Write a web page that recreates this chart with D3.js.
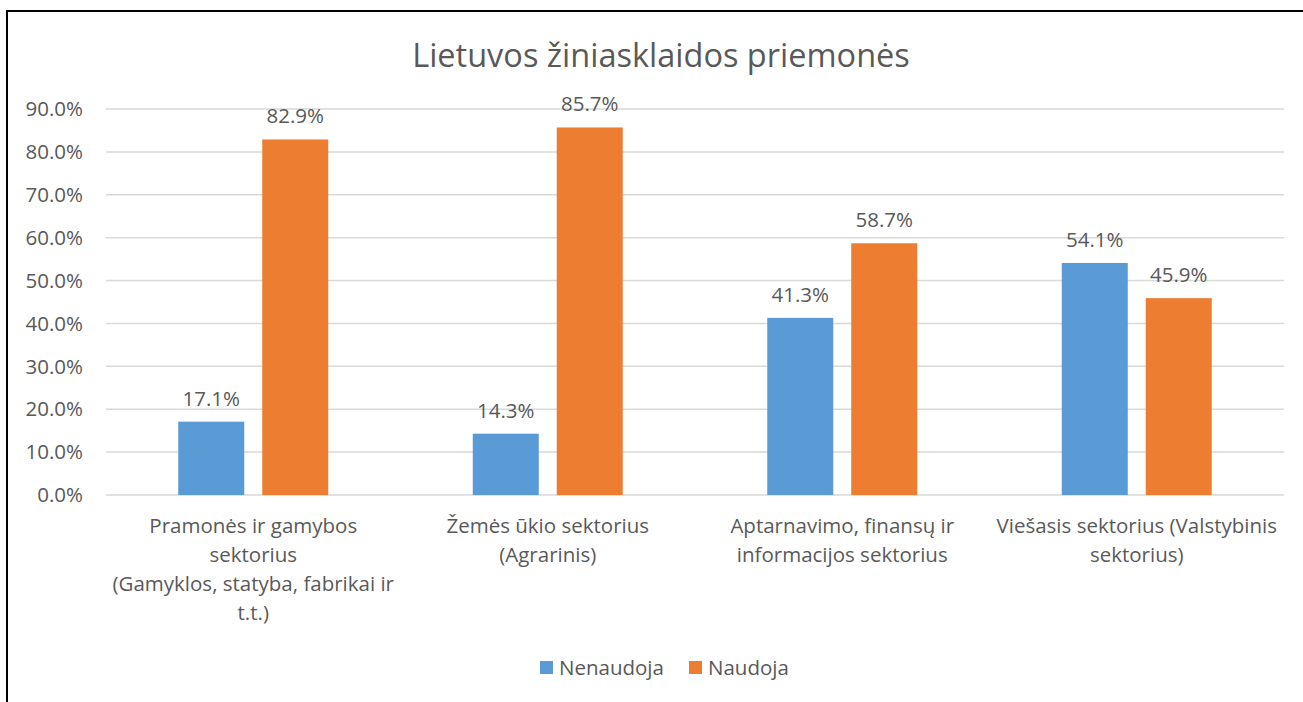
<!DOCTYPE html>
<html>
<head>
<meta charset="utf-8">
<script src="https://cdn.jsdelivr.net/npm/d3@7"></script>
<style>
    body { margin: 0; background: #fff; }
    text { font-family: "Open Sans", sans-serif; fill: #595959; }
</style>
</head>
<body>
<script>
var categories = ['Pramonės', 'Žemės ūkio', 'Aptarnavimo', 'Viešasis'];
var categoryLines = [
    ['Pramonės ir gamybos', 'sektorius', '(Gamyklos, statyba, fabrikai ir', 't.t.)'],
    ['Žemės ūkio sektorius', '(Agrarinis)'],
    ['Aptarnavimo, finansų ir', 'informacijos sektorius'],
    ['Viešasis sektorius (Valstybinis', 'sektorius)']
];
var seriesNames = ['Nenaudoja', 'Naudoja'];
var nenaudoja = [17.1, 14.3, 41.3, 54.1];
var naudoja = [82.9, 85.7, 58.7, 45.9];
var yTicks = [0, 10, 20, 30, 40, 50, 60, 70, 80, 90];

(function () {
    var width = 1303,
        height = 702,
        left = 106,
        right = 1284,
        top = 109,
        bottom = 495,
        fs = '20.5px',
        colors = ['#5b9bd5', '#ed7d31'],
        series = [nenaudoja, naudoja],
        svg, x0, x1, y, groupW = 150, g, leg;

    svg = d3.select('body').append('svg')
        .attr('width', width)
        .attr('height', height);

    // chart frame
    svg.append('rect')
        .attr('x', 7).attr('y', 11)
        .attr('width', width + 10).attr('height', height + 10)
        .attr('fill', 'none')
        .attr('stroke', '#000')
        .attr('stroke-width', 2);

    svg.append('text')
        .attr('x', 661).attr('y', 67)
        .attr('text-anchor', 'middle')
        .style('font-size', '32.5px')
        .text('Lietuvos žiniasklaidos priemonės');

    x0 = d3.scaleBand().domain(categories).range([left, right]);
    x1 = d3.scaleBand().domain(seriesNames).range([0, groupW]).paddingInner(0.214);
    y = d3.scaleLinear().domain([0, 90]).range([bottom, top]);

    // grid
    svg.append('g').selectAll('line').data(yTicks).enter().append('line')
        .attr('x1', left).attr('x2', right)
        .attr('y1', function (d) { return y(d); })
        .attr('y2', function (d) { return y(d); })
        .attr('stroke', '#d9d9d9')
        .attr('stroke-width', 1.5);

    // y labels
    svg.append('g').selectAll('text').data(yTicks).enter().append('text')
        .attr('x', 83)
        .attr('y', function (d) { return y(d); })
        .attr('dy', '.35em')
        .attr('text-anchor', 'end')
        .style('font-size', fs)
        .text(function (d) { return d.toFixed(1) + '%'; });

    g = svg.append('g').selectAll('g').data(categories).enter().append('g')
        .attr('transform', function (d) {
            return 'translate(' + (x0(d) + (x0.bandwidth() - groupW) / 2) + ',0)';
        });

    g.selectAll('rect').data(function (d, i) {
        return seriesNames.map(function (s, j) { return {s: s, v: series[j][i], c: colors[j]}; });
    }).enter().append('rect')
        .attr('x', function (d) { return x1(d.s); })
        .attr('y', function (d) { return y(d.v); })
        .attr('width', x1.bandwidth())
        .attr('height', function (d) { return bottom - y(d.v); })
        .attr('fill', function (d) { return d.c; });

    // data labels
    g.selectAll('text.val').data(function (d, i) {
        return seriesNames.map(function (s, j) { return {s: s, v: series[j][i]}; });
    }).enter().append('text')
        .attr('class', 'val')
        .attr('x', function (d) { return x1(d.s) + x1.bandwidth() / 2; })
        .attr('y', function (d) { return y(d.v) - 16; })
        .attr('text-anchor', 'middle')
        .style('font-size', fs)
        .text(function (d) { return d.v.toFixed(1) + '%'; });

    // category labels
    svg.append('g').selectAll('text').data(categories).enter().append('text')
        .attr('text-anchor', 'middle')
        .style('font-size', fs)
        .each(function (d, i) {
            var t = d3.select(this),
                cx = x0(d) + x0.bandwidth() / 2;
            categoryLines[i].forEach(function (line, k) {
                t.append('tspan')
                    .attr('x', cx)
                    .attr('y', 533 + k * 29)
                    .text(line);
            });
        });

    // legend
    leg = svg.append('g').selectAll('g').data(seriesNames).enter().append('g')
        .attr('transform', function (d, i) { return 'translate(' + (540 + i * 149) + ',661)'; });
    leg.append('rect')
        .attr('width', 13).attr('height', 13)
        .attr('fill', function (d, i) { return colors[i]; });
    leg.append('text')
        .attr('x', 19).attr('y', 6.5).attr('dy', '.35em')
        .style('font-size', fs)
        .text(function (d) { return d; });
}());
</script>
</body>
</html>
